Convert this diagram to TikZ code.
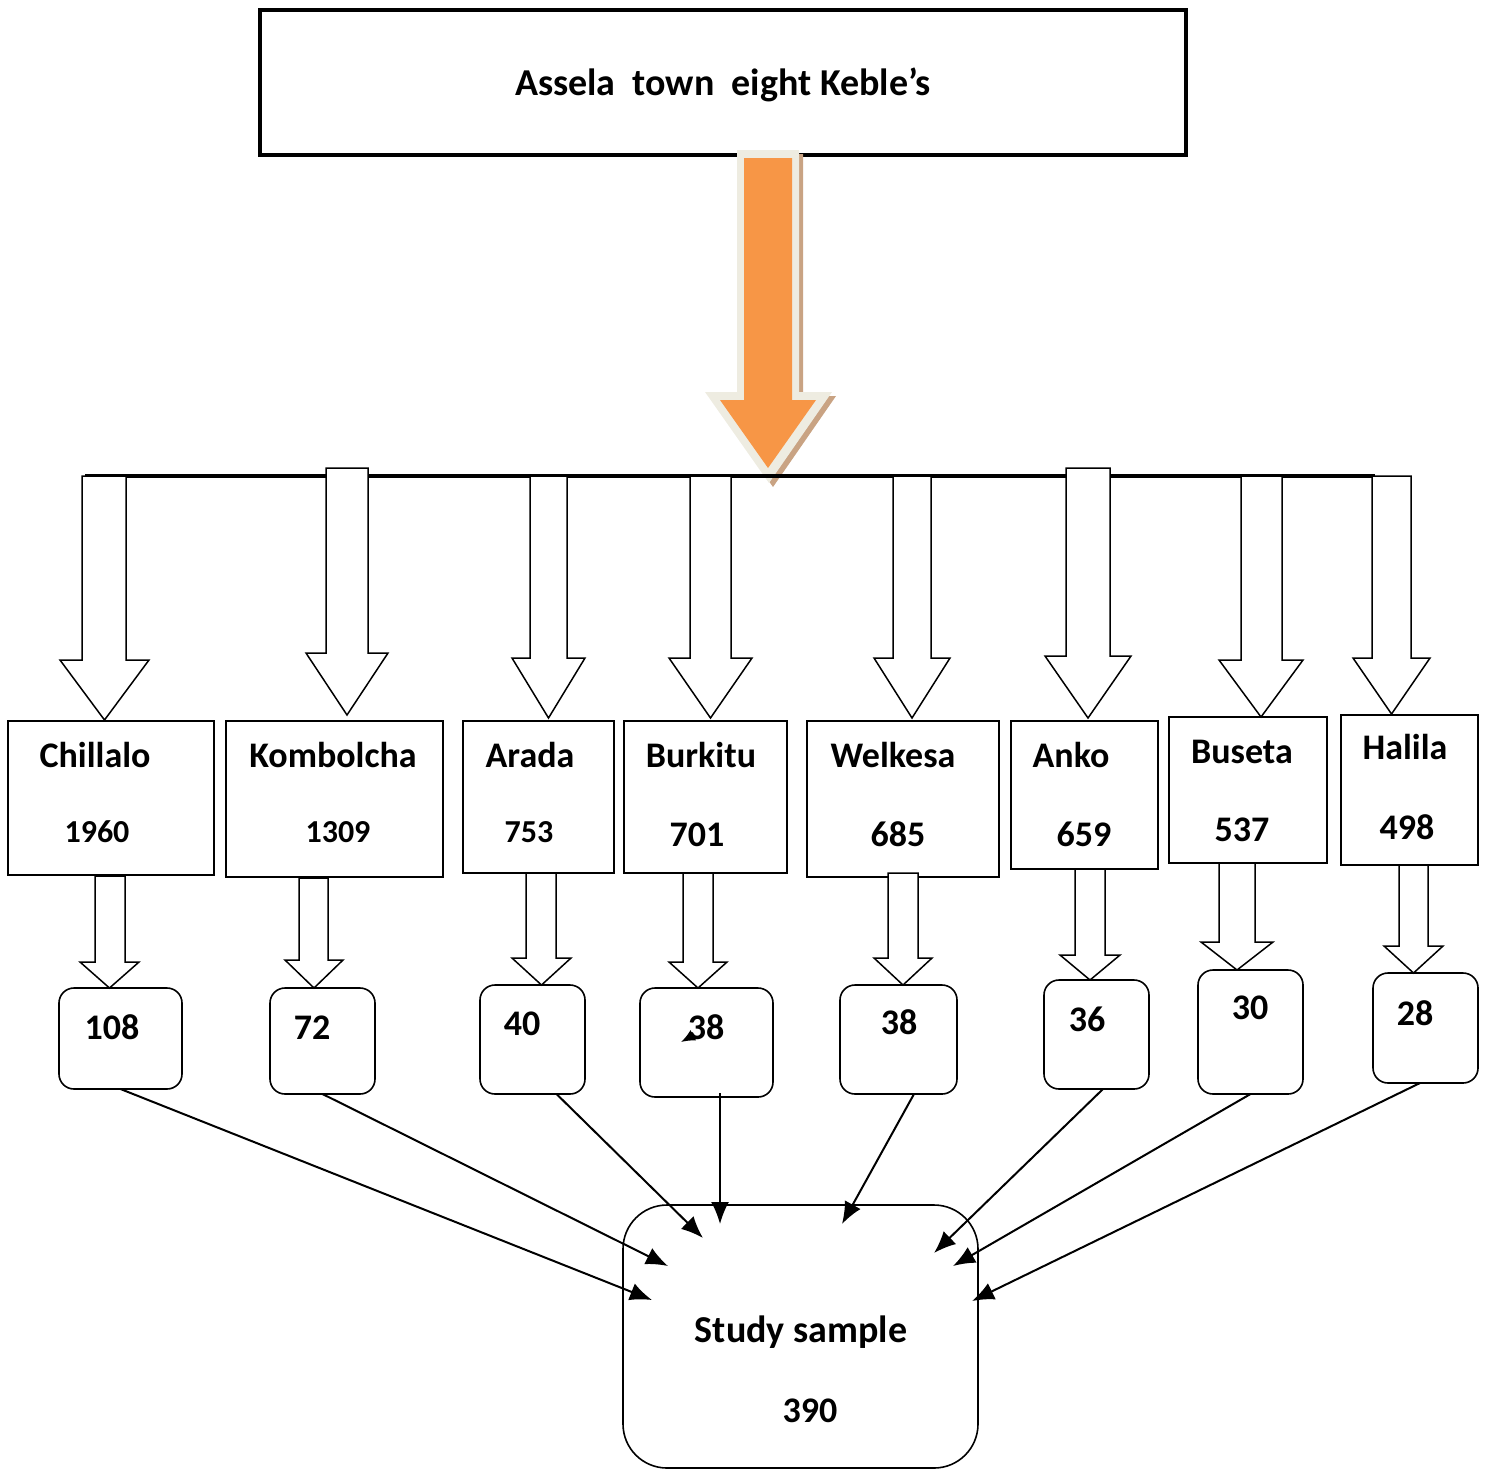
\documentclass[tikz,border=0pt]{standalone}
\usepackage{fontspec}
\setmainfont{Carlito}
\usetikzlibrary{arrows.meta}
\definecolor{orangeflow}{HTML}{F79646}
\definecolor{creamflow}{HTML}{EEECE1}
\definecolor{shadowflow}{HTML}{C9A383}
\tikzset{
  kbox/.style={draw, line width=0.8pt, inner sep=0pt, outer sep=0pt},
  rbox/.style={kbox, rounded corners=7.5pt},
  lbl/.style={font=\bfseries\fontsize{18}{20}\selectfont, inner sep=0pt, anchor=base},
  biglbl/.style={lbl, font=\bfseries\fontsize{19}{21}\selectfont},
  smallnum/.style={font=\bfseries\fontsize{16}{18}\selectfont, inner sep=0pt, anchor=base},
  hollow/.style={draw, fill=white, line width=0.75pt, line join=miter},
  feed/.style={line width=1pt, arrows={-Latex[length=11pt,width=9pt]}},
}
% hollow block arrow : shaft left, shaft right, top, head base, head left, head right, tip
\newcommand{\fleche}[7]{%
  \draw[hollow] (#1,#3) -- (#1,#4) -- (#5,#4) -- ({(#5+#6)/2},#7) -- (#6,#4) -- (#2,#4) -- (#2,#3) -- cycle;}
\begin{document}
\begin{tikzpicture}[x=0.5pt,y=-0.5pt]
\useasboundingbox (0,0) rectangle (1486,1472);

% top box
\node[kbox, line width=2pt, minimum width=463pt, minimum height=72.5pt] (town) at (723,82.5) {};
\node[biglbl] at (723,95) {Assela\ \ town\ \ eight Keble’s};

% big orange arrow
\fill[shadowflow] (741,154) -- (741,396) -- (709,396) -- (773,487) -- (836,396) -- (803,396) -- (803,154) -- cycle;
\fill[creamflow] (737,150) -- (737,392) -- (705,392) -- (769,483) -- (832,392) -- (799,392) -- (799,150) -- cycle;
\fill[orangeflow] (744,158) -- (744,400) -- (720,400) -- (768,468) -- (816,400) -- (792,400) -- (792,158) -- cycle;

% bar
\draw[line width=1.6pt] (85,476) -- (1375,476);

% kebele boxes
\node[kbox, minimum width=103pt, minimum height=77pt] (chillalo) at (111,798) {};
\node[kbox, minimum width=108.5pt, minimum height=78pt] (kombolcha) at (334.5,799) {};
\node[kbox, minimum width=75.5pt, minimum height=76pt] (arada) at (538.5,797) {};
\node[kbox, minimum width=81.5pt, minimum height=76pt] (burkitu) at (705.5,797) {};
\node[kbox, minimum width=96pt, minimum height=78pt] (welkesa) at (903,799) {};
\node[kbox, minimum width=73.5pt, minimum height=74pt] (anko) at (1084.5,795) {};
\node[kbox, minimum width=79pt, minimum height=73pt] (buseta) at (1248,790) {};
\node[kbox, minimum width=68.5pt, minimum height=75pt] (halila) at (1409.5,790) {};

\node[lbl] at (95,767) {Chillalo};
\node[lbl] at (333,767) {Kombolcha};
\node[lbl] at (530,767) {Arada};
\node[lbl] at (701,767) {Burkitu};
\node[lbl] at (893,767) {Welkesa};
\node[lbl] at (1071,767) {Anko};
\node[lbl] at (1242,763) {Buseta};
\node[lbl] at (1405,759) {Halila};

\node[smallnum] at (97,842) {1960};
\node[smallnum] at (338,842) {1309};
\node[smallnum] at (529,842) {753};
\node[lbl] at (697,846) {701};
\node[lbl] at (898,846) {685};
\node[lbl] at (1084,846) {659};
\node[lbl] at (1242,841) {537};
\node[lbl] at (1407,839) {498};

% arrows from the bar
\fleche{82}{126}{476}{660}{60}{149}{720}
\fleche{326}{368}{468}{653}{306}{388}{715}
\fleche{530}{567}{476}{658}{512}{585}{718}
\fleche{690}{731}{476}{658}{669}{752}{718}
\fleche{893}{931}{476}{658}{874}{950}{718}
\fleche{1066}{1110}{468}{656}{1045}{1131}{718}
\fleche{1241}{1282}{476}{660}{1219}{1303}{717}
\fleche{1372}{1411}{476}{658}{1353}{1430}{714}

% sample boxes
\node[rbox, minimum width=61.5pt, minimum height=50.5pt] (s1) at (120.5,1038.5) {};
\node[rbox, minimum width=52.5pt, minimum height=53pt] (s2) at (322.5,1041) {};
\node[rbox, minimum width=52.5pt, minimum height=54.5pt] (s3) at (532.5,1039.5) {};
\node[rbox, minimum width=66.5pt, minimum height=54.5pt] (s4) at (706.5,1042.5) {};
\node[rbox, minimum width=58.5pt, minimum height=54.5pt] (s5) at (898.5,1039.5) {};
\node[rbox, minimum width=52.5pt, minimum height=54.5pt] (s6) at (1096.5,1034.5) {};
\node[rbox, minimum width=52.5pt, minimum height=62pt] (s7) at (1250.5,1032) {};
\node[rbox, minimum width=52.5pt, minimum height=55pt] (s8) at (1425.5,1028) {};

\node[lbl] at (112,1039) {108};
\node[lbl] at (312,1039) {72};
\node[lbl] at (522,1035) {40};
\node[lbl] at (706,1039) {38};
\node[lbl] at (899,1034) {38};
\node[lbl] at (1087,1031) {36};
\node[lbl] at (1250,1019) {30};
\node[lbl] at (1415,1025) {28};

% arrows to the sample boxes
\fleche{95}{125}{876}{962}{80}{139}{988}
\fleche{299}{328}{878}{960}{285}{343}{988}
\fleche{526}{556}{873}{958}{512}{571}{985}
\fleche{683}{713}{873}{962}{669}{727}{988}
\fleche{888}{918}{873}{958}{874}{932}{985}
\fleche{1075}{1105}{869}{955}{1060}{1120}{980}
\fleche{1219}{1255}{863}{942}{1201}{1273}{970}
\fleche{1399}{1428}{865}{946}{1384}{1443}{973}

% study sample
\node[kbox, rounded corners=22pt, minimum width=177.5pt, minimum height=131.5pt] (study) at (800.5,1336.5) {};
\node[biglbl] at (801,1342) {Study sample};
\node[lbl] at (810,1422) {390};

\coordinate (e1) at (652,1300);
\coordinate (e2) at (668,1266);
\coordinate (e3) at (703,1238);
\coordinate (e4) at (720,1224);
\coordinate (e5) at (842,1224);
\coordinate (e6) at (934,1253);
\coordinate (e7) at (953,1266);
\coordinate (e8) at (972,1301);

\draw[feed] (s1.south) -- (e1);
\draw[feed] (s2.south) -- (e2);
\draw[feed] ([xshift=12pt]s3.south) -- (e3);
\draw[feed] ([xshift=6.75pt,yshift=2pt]s4.south) -- (e4);
\draw[feed] ([xshift=7.75pt]s5.south) -- (e5);
\draw[feed] ([xshift=3.25pt]s6.south) -- (e6);
\draw[feed] (s7.south) -- (e7);
\draw[feed] ([xshift=-2.75pt]s8.south) -- (e8);

% stray tip in the fourth box
\coordinate (t1) at (692,1036);
\coordinate (t2) at (681,1042);
\draw[line width=1pt, arrows={-Latex[length=7pt,width=6pt]}] (t1) -- (t2);
\end{tikzpicture}
\end{document}
